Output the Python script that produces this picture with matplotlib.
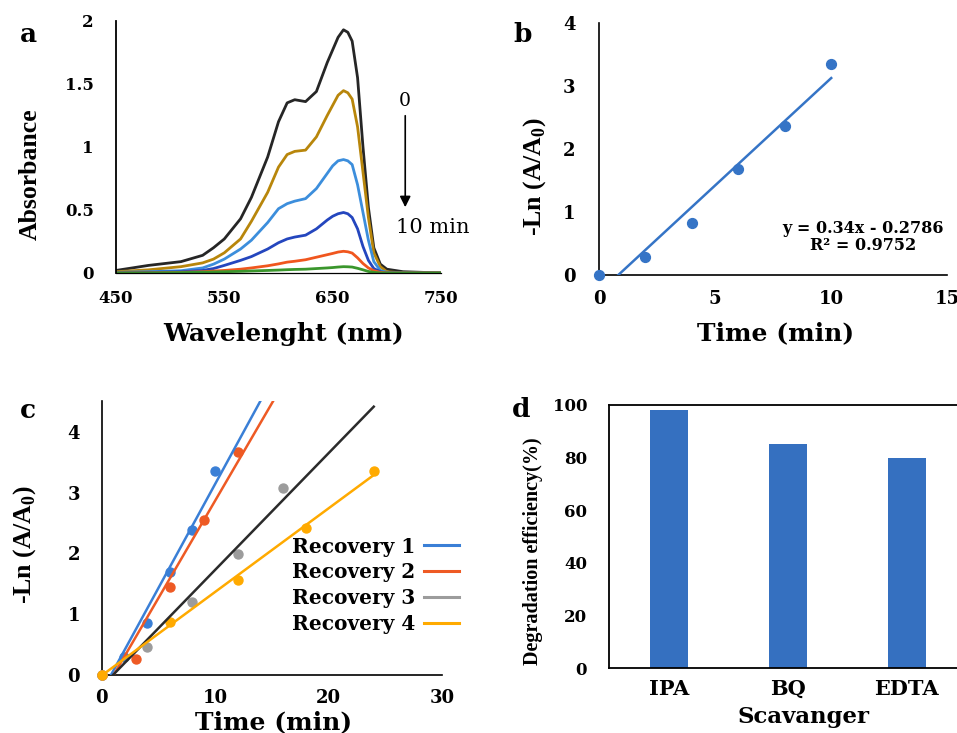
"""
MB degradation: UV-vis spectra, kinetics, recovery runs and scavenger test
"""

import numpy as np
import matplotlib.pyplot as plt
from matplotlib.lines import Line2D

# ---- panel a: spectra ----
wavelength = [450, 480, 510, 530, 540, 550, 565, 575, 590, 600, 608, 615, 625, 635,
              645, 650, 655, 660, 664, 668, 673, 678, 683, 688, 694, 700, 715, 750]
abs_0 = [0.02, 0.06, 0.09, 0.14, 0.20, 0.27, 0.43, 0.60, 0.92, 1.20, 1.35, 1.375, 1.36, 1.44,
         1.67, 1.77, 1.87, 1.93, 1.91, 1.84, 1.55, 1.00, 0.52, 0.20, 0.07, 0.03, 0.01, 0.0]
abs_2 = [0.01, 0.025, 0.05, 0.08, 0.11, 0.16, 0.27, 0.41, 0.64, 0.84, 0.94, 0.965, 0.975, 1.08,
         1.25, 1.33, 1.41, 1.447, 1.43, 1.38, 1.16, 0.80, 0.44, 0.16, 0.05, 0.01, 0.0, 0.0]
abs_4 = [0.005, 0.01, 0.018, 0.04, 0.07, 0.11, 0.19, 0.26, 0.40, 0.51, 0.55, 0.57, 0.59, 0.67,
         0.79, 0.85, 0.89, 0.90, 0.89, 0.86, 0.70, 0.48, 0.26, 0.09, 0.02, 0.005, 0.0, 0.0]
abs_6 = [0.0, 0.005, 0.01, 0.02, 0.035, 0.06, 0.10, 0.13, 0.19, 0.24, 0.27, 0.285, 0.30, 0.35,
         0.42, 0.45, 0.47, 0.48, 0.47, 0.44, 0.35, 0.21, 0.10, 0.035, 0.01, 0.0, 0.0, 0.0]
abs_8 = [0.0, 0.0, 0.005, 0.01, 0.015, 0.02, 0.03, 0.04, 0.057, 0.072, 0.086, 0.093, 0.105, 0.125,
         0.145, 0.155, 0.166, 0.172, 0.168, 0.158, 0.12, 0.075, 0.04, 0.018, 0.005, 0.0, 0.0, 0.0]
abs_10 = [0.0, 0.0, 0.003, 0.006, 0.008, 0.01, 0.013, 0.016, 0.02, 0.023, 0.026, 0.028, 0.03, 0.035,
          0.04, 0.043, 0.047, 0.05, 0.049, 0.047, 0.037, 0.025, 0.012, 0.005, 0.0, 0.0, 0.0, 0.0]
spectra = [abs_0, abs_2, abs_4, abs_6, abs_8, abs_10]
spec_colors = ['#262626', '#B8860B', '#3C8EDC', '#2446BE', '#F0561E', '#3A962C']

# ---- panel b: kinetics ----
t_b = [0, 2, 4, 6, 8, 10]
lnA_b = [0, 0.29, 0.83, 1.68, 2.37, 3.35]

# ---- panel c: recovery runs ----
t_r1 = [0, 2, 4, 6, 8, 10]
ln_r1 = [0, 0.29, 0.85, 1.70, 2.38, 3.36]
t_r2 = [0, 3, 6, 9, 12]
ln_r2 = [0, 0.27, 1.44, 2.55, 3.66]
t_r3 = [0, 4, 8, 12, 16]
ln_r3 = [0, 0.46, 1.20, 1.99, 3.07]
t_r4 = [0, 6, 12, 18, 24]
ln_r4 = [0, 0.87, 1.57, 2.41, 3.35]
rec_labels = ['Recovery 1', 'Recovery 2', 'Recovery 3', 'Recovery 4']

# ---- panel d: scavengers ----
scavengers = ['IPA', 'BQ', 'EDTA']
efficiency = [98, 85, 80]

TXT = 'DejaVu Serif'
VTXT = 'Liberation Serif'


def style_ticks(ax, size, pad_x, pad_y):
    ax.tick_params(length=0, labelsize=size)
    ax.tick_params(axis='x', pad=pad_x)
    ax.tick_params(axis='y', pad=pad_y)
    for lab in ax.get_xticklabels() + ax.get_yticklabels():
        lab.set_family(TXT)
        lab.set_weight('bold')


fig = plt.figure(figsize=(9.57, 7.33), dpi=100)

# ================= a =================
ax = fig.add_axes([0.1212, 0.6276, 0.3396, 0.3438])
for y, c in zip(spectra, spec_colors):
    ax.plot(wavelength, y, color=c, lw=2.0, solid_joinstyle='round')
ax.set_xlim(450, 750)
ax.set_ylim(0, 2)
ax.set_xticks([450, 550, 650, 750])
ax.set_yticks([0, 0.5, 1, 1.5, 2])
ax.set_yticklabels(['0', '0.5', '1', '1.5', '2'])
for s in ['top', 'right']:
    ax.spines[s].set_visible(False)
ax.spines['left'].set_linewidth(1.3)
ax.spines['bottom'].set_linewidth(0.9)
style_ticks(ax, 12, 12, 16)
ax.set_xlabel('Wavelenght (nm)', family=TXT, weight='bold', fontsize=18)
ax.xaxis.set_label_coords(0.516, -0.195)
ax.set_ylabel('Absorbance', family=VTXT, weight='bold', fontsize=18.5)
ax.yaxis.set_label_coords(-0.227, 0.393)
ax.text(717, 1.365, '0', family=TXT, fontsize=13.5, ha='center', va='center')
ax.annotate('', xy=(717, 0.50), xytext=(717, 1.27),
            arrowprops=dict(arrowstyle='-|>', color='black', lw=1.2, mutation_scale=16))
ax.text(742, 0.357, '10 min', family=TXT, fontsize=15, ha='center', va='center')

# ================= b =================
ax = fig.add_axes([0.6259, 0.6248, 0.3640, 0.3442])
blue = '#3574C6'
ax.scatter(t_b, lnA_b, s=50, color=blue, clip_on=False, zorder=3)
k, b0 = np.polyfit(t_b, lnA_b, 1)
xf = np.array([0, t_b[-1]])
ax.plot(xf, k * xf + b0, color=blue, lw=1.8, zorder=4)
ax.set_xlim(0, 15)
ax.set_ylim(0, 4)
ax.set_xticks([0, 5, 10, 15])
ax.set_yticks([0, 1, 2, 3, 4])
for s in ['top', 'right']:
    ax.spines[s].set_visible(False)
ax.spines['left'].set_linewidth(1.2)
ax.spines['bottom'].set_linewidth(1.2)
style_ticks(ax, 13, 11, 17)
ax.set_xlabel('Time (min)', family=TXT, weight='bold', fontsize=18)
ax.xaxis.set_label_coords(0.506, -0.185)
ax.set_ylabel(r'-Ln (A/A$_\mathregular{0}$)', family=VTXT, weight='bold', fontsize=18.5)
ax.yaxis.set_label_coords(-0.146, 0.392)
ax.text(11.37, 0.603, 'y = 0.34x - 0.2786\nR² = 0.9752', family=TXT, weight='bold',
        fontsize=11.5, ha='center', va='center', multialignment='center', linespacing=1.05)

# ================= c =================
ax = fig.add_axes([0.1063, 0.0791, 0.3553, 0.3734])
runs = [(t_r1, ln_r1, '#3A7FD6', '#3A7FD6'),
        (t_r2, ln_r2, '#EE5A24', '#EE5A24'),
        (t_r3, ln_r3, '#9C9C9C', '#2B2B2B'),
        (t_r4, ln_r4, '#FFAA00', '#FFAA00')]
xf = np.array([0, 24])
for t, v, mc, lc in runs:
    ax.scatter(t, v, s=42, color=mc, clip_on=False, zorder=3)
    k, b0 = np.polyfit(t, v, 1)
    ax.plot(xf, k * xf + b0, color=lc, lw=1.8, zorder=4)
ax.set_xlim(0, 30)
ax.set_ylim(0, 4.5)
ax.set_xticks([0, 10, 20, 30])
ax.set_yticks([0, 1, 2, 3, 4])
for s in ['top', 'right']:
    ax.spines[s].set_visible(False)
ax.spines['left'].set_linewidth(1.2)
ax.spines['bottom'].set_linewidth(1.2)
style_ticks(ax, 13, 10, 15.5)
ax.set_xlabel('Time (min)', family=TXT, weight='bold', fontsize=18)
ax.xaxis.set_label_coords(0.504, -0.128)
ax.set_ylabel(r'-Ln (A/A$_\mathregular{0}$)', family=VTXT, weight='bold', fontsize=18.5)
ax.yaxis.set_label_coords(-0.187, 0.475)
handles = [Line2D([], [], color=mc, lw=2.2) for _, _, mc, _ in runs]
leg = ax.legend(handles, rec_labels, loc='upper left', bbox_to_anchor=(0.56, 0.506),
                frameon=False, markerfirst=False, borderpad=0, borderaxespad=0,
                handlelength=1.75, handletextpad=0.4, labelspacing=0.29,
                prop={'family': TXT, 'weight': 'bold', 'size': 14.5})

# ================= d =================
ax = fig.add_axes([0.6367, 0.0883, 0.3727, 0.3592])
ax.bar(scavengers, efficiency, width=0.32, color='#3570C0')
ax.set_xlim(-0.5, 2.5)
ax.set_ylim(0, 100)
ax.set_yticks([0, 20, 40, 60, 80, 100])
for s in ax.spines.values():
    s.set_linewidth(1.3)
style_ticks(ax, 12, 7.5, 16)
for lab in ax.get_xticklabels():
    lab.set_fontsize(15)
ax.set_xlabel('Scavanger', family=TXT, weight='bold', fontsize=16.5)
ax.xaxis.set_label_coords(0.544, -0.143)
ax.set_ylabel('Degradation efficiency(%)', family=VTXT, weight='bold', fontsize=14.5)
ax.yaxis.set_label_coords(-0.186, 0.443)

# panel letters
W, H = 957, 733
for letter, px, py in [('a', 20, 41.7), ('b', 513, 41.7), ('c', 20, 418.3), ('d', 512, 416.7)]:
    fig.text(px / W, 1 - py / H, letter, family=TXT, weight='bold', fontsize=19,
             ha='left', va='baseline')

fig.savefig('out.png', dpi=100)
plt.close(fig)
